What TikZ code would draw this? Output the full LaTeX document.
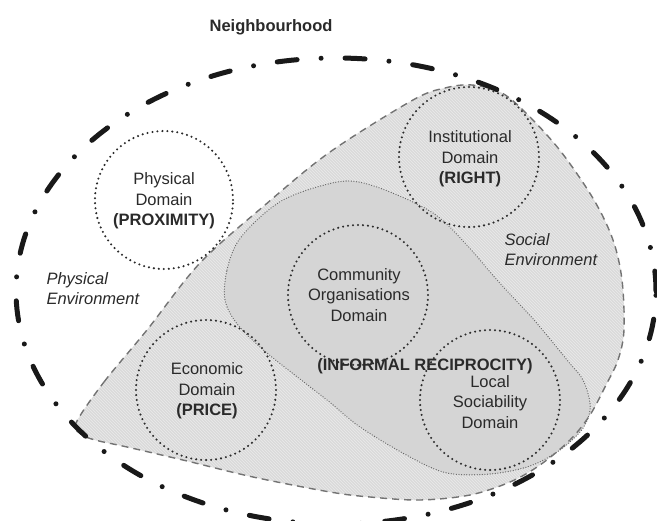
\documentclass[tikz,border=0pt]{standalone}
\usepackage{fontspec}
\setmainfont{Liberation Sans}
\usetikzlibrary{patterns}
\definecolor{txt}{HTML}{2A2A2A}
\definecolor{socfill}{HTML}{DADADA}
\definecolor{comfill}{HTML}{D5D5D5}
\tikzset{
  domcirc/.style={draw=txt, line width=2.3pt, dash pattern=on 0pt off 5pt, line cap=round, circle, minimum size=140pt, inner sep=0pt},
  lbl/.style={text=txt, align=center, font=\fontsize{16.5}{20.5}\selectfont},
  envlbl/.style={text=txt, align=left, font=\fontsize{16.5}{20}\selectfont\itshape, anchor=west},
  outerline/.style={draw=black!90, line width=5pt, line cap=round, dash pattern=on 20pt off 24pt on 0pt off 24pt},
  socialline/.style={draw=black!55, line width=1.4pt, dash pattern=on 7pt off 5pt},
  communline/.style={draw=black!60, line width=1.3pt, dash pattern=on 0pt off 2.6pt, line cap=round}
}
\begin{document}
\begin{tikzpicture}[x=1pt, y=-1pt]
\useasboundingbox (0,0) rectangle (657,521);
\clip (0,0) rectangle (657,521);
\fill[white] (0,0) rectangle (657,521);
\def\socpts{(76,423) (104,382) (147,330) (200,263) (265,205) (330,152) (413,100) (445,88) (472,85)
 (502,93) (530,117) (562,153) (594,200) (613,240) (622,280) (624,330) (618,360) (606,385)
 (590,415) (570,440) (540,465) (510,482) (470,495) (420,500) (370,497) (330,492) (253,477)
 (187,461) (127,447) (95,440) (81,434)}
\def\compts{(225,300) (227,270) (237,243) (257,220) (283,200) (317,187) (350,181) (385,190) (433,213)
 (465,243) (497,280) (534,320) (567,360) (583,380) (590,403) (588,418) (580,432) (560,450)
 (530,466) (490,474) (447,473) (410,457) (360,427) (327,400) (267,353) (238,325)}
% social environment
\path[fill=socfill] plot[smooth cycle, tension=0.55] coordinates {\socpts};
\path[pattern=north west lines, pattern color=white!45!socfill] plot[smooth cycle, tension=0.55] coordinates {\socpts};
% community shape
\path[fill=comfill] plot[smooth cycle, tension=0.55] coordinates {\compts};
\draw[communline] plot[smooth cycle, tension=0.55] coordinates {\compts};
\draw[socialline] plot[smooth cycle, tension=0.55] coordinates {\socpts};
% outer neighbourhood
\draw[outerline] (336,291) ellipse [x radius=320pt, y radius=233pt];
% domains
\node[domcirc, minimum size=138pt] (phys) at (164,200) {};
\node[domcirc] (inst) at (469,157) {};
\node[domcirc] (comm) at (358,295) {};
\node[domcirc] (econ) at (206,390) {};
\node[domcirc] (loc) at (490,400) {};
\node[lbl] (physT) at (164,201) {Physical\\Domain\\\textbf{(PROXIMITY)}};
\node[lbl] (instT) at (470,159) {Institutional\\Domain\\\textbf{(RIGHT)}};
\node[lbl] (commT) at (359,295) {Community\\Organisations\\Domain};
\node[lbl] (econT) at (207,391) {Economic\\Domain\\\textbf{(PRICE)}};
\node[lbl] (locT) at (490,402) {Local\\Sociability\\Domain};
\node[lbl, font=\fontsize{16.5}{20}\selectfont\bfseries] (recip) at (425,366) {(INFORMAL RECIPROCITY)};
\node[envlbl] (physEnv) at (43,289) {Physical\\Environment};
\node[envlbl] (socEnv) at (501,250) {Social\\Environment};
\node[lbl, font=\fontsize{16.5}{20}\selectfont\bfseries] (title) at (271,27) {Neighbourhood};
\end{tikzpicture}
\end{document}
